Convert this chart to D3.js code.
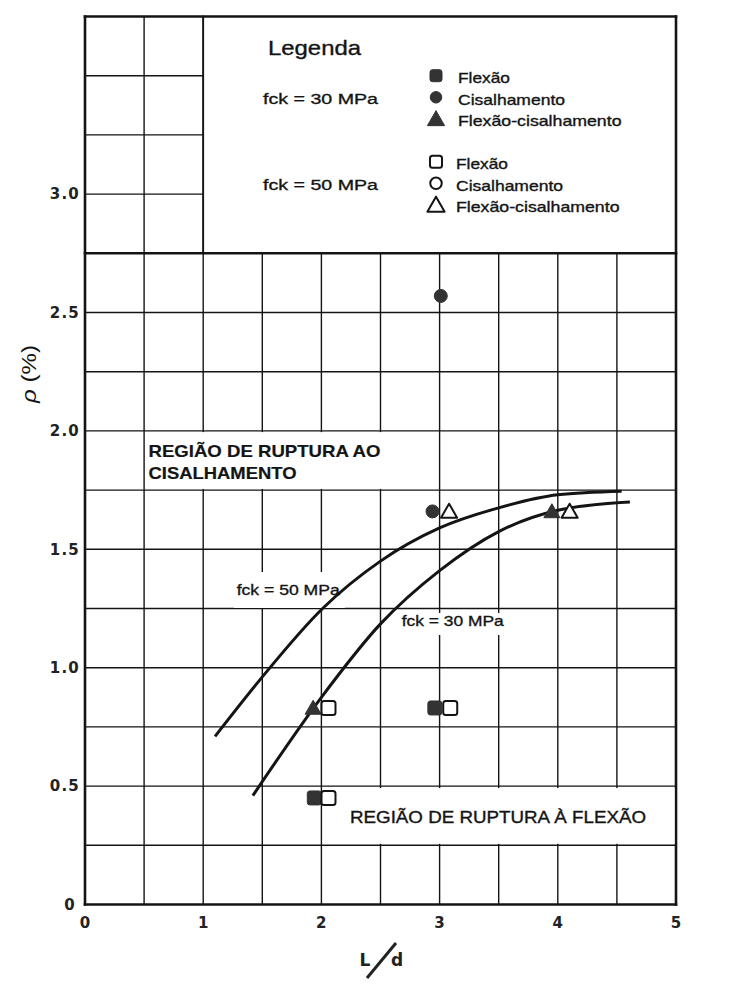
<!DOCTYPE html>
<html>
<head>
<meta charset="utf-8">
<script src="https://cdn.jsdelivr.net/npm/d3@7"></script>
<style>
  html, body { margin: 0; padding: 0; background: #fff; }
  svg { display: block; }
</style>
</head>
<body>
<svg id="chart" width="744" height="992"></svg>
<script>
// ---- axis ticks ----
const xTicks = [0, 1, 2, 3, 4, 5];
const xTickLabels = ["0", "1", "2", "3", "4", "5"];
const yTicks = [0, 0.5, 1.0, 1.5, 2.0, 2.5, 3.0];
const yTickLabels = ["0", "0.5", "1.0", "1.5", "2.0", "2.5", "3.0"];

// ---- test results: [L/d, rho (%)] ----
const flexao30 = [[1.94, 0.45], [2.96, 0.83]];
const cisalhamento30 = [[2.94, 1.66], [3.01, 2.57]];
const flexCis30 = [[1.93, 0.83], [3.95, 1.66]];
const flexao50 = [[2.06, 0.45], [2.06, 0.83], [3.09, 0.83]];
const cisalhamento50 = [];
const flexCis50 = [[3.08, 1.66], [4.10, 1.66]];

// ---- failure-mode boundary curves: [L/d, rho (%)] ----
const curve50 = [[1.10, 0.71], [1.49, 0.955], [2.01, 1.25], [2.5, 1.45], [3.0, 1.59],
                 [3.5, 1.675], [4.0, 1.73], [4.54, 1.745]];
const curve30 = [[1.42, 0.46], [2.0, 0.875], [2.5, 1.185], [3.0, 1.41], [3.5, 1.575],
                 [4.0, 1.665], [4.61, 1.70]];

// ---- legend ----
const legendGroups = ["fck = 30 MPa", "fck = 50 MPa"];
const legendTypes = ["Flexão", "Cisalhamento", "Flexão-cisalhamento"];
const legendShapes = ["square", "circle", "triangle"];

// ---- drawing ----
const W = 744, H = 992;
const INK = "#141414";
const FILL = "#333";
const SANS = "'Liberation Sans', Arial, sans-serif";

const svg = d3.select("#chart");
svg.append("rect").attr("width", W).attr("height", H).attr("fill", "#fff");

const x = d3.scaleLinear().domain([0, 5]).range([85, 676]);
const y = d3.scaleLinear().domain([0, 3.75]).range([904.5, 16.5]);

// grid: full height up to the legend box, only the first two columns above it
const grid = svg.append("g").attr("stroke", INK).attr("stroke-width", 1.4).attr("fill", "none");
d3.range(0.5, 5, 0.5).forEach(v => {
  const top = v <= 1 ? 3.75 : 2.75;
  grid.append("line").attr("x1", x(v)).attr("x2", x(v)).attr("y1", y(0)).attr("y2", y(top));
});
d3.range(0.25, 3.75, 0.25).forEach(v => {
  if (Math.abs(v - 2.75) < 1e-9) return;
  const right = v < 2.75 ? 5 : 1;
  grid.append("line").attr("x1", x(0)).attr("x2", x(right)).attr("y1", y(v)).attr("y2", y(v));
});

// frame and legend box
const frame = svg.append("g").attr("stroke", INK).attr("stroke-width", 2.6).attr("fill", "none")
  .attr("stroke-linecap", "square");
frame.append("line").attr("x1", x(0)).attr("x2", x(0)).attr("y1", y(0)).attr("y2", y(3.75));
frame.append("line").attr("x1", x(0)).attr("x2", x(5)).attr("y1", y(0)).attr("y2", y(0));
frame.append("line").attr("x1", x(0)).attr("x2", x(5)).attr("y1", y(3.75)).attr("y2", y(3.75));
frame.append("line").attr("x1", x(5)).attr("x2", x(5)).attr("y1", y(0)).attr("y2", y(3.75));
frame.append("line").attr("x1", x(0)).attr("x2", x(5)).attr("y1", y(2.75)).attr("y2", y(2.75));
frame.append("line").attr("x1", x(1)).attr("x2", x(1)).attr("y1", y(2.75)).attr("y2", y(3.75))
  .attr("stroke-width", 1.8);

// white panels behind the region and curve labels
const panels = [
  [x(0.5) + 1.5, y(2.0) + 1.2, 400, y(1.75) - 1.2],
  [234, 572, 345, 608],
  [398, 613, 507, 635],
  [335, y(0.5) + 2, x(5) - 1.5, y(0.25) - 1.5]
];
svg.append("g").selectAll("rect").data(panels).join("rect")
  .attr("x", d => d[0]).attr("y", d => d[1])
  .attr("width", d => d[2] - d[0]).attr("height", d => d[3] - d[1])
  .attr("fill", "#fff");

// text helper with fixed printed width
function label(g, str, lx, base, size, weight, width) {
  return g.append("text").attr("x", lx).attr("y", base)
    .attr("font-family", SANS).attr("font-size", size).attr("font-weight", weight)
    .attr("fill", INK).attr("stroke", INK).attr("stroke-width", weight === "bold" ? 0.2 : 0.35)
    .attr("textLength", width).attr("lengthAdjust", "spacingAndGlyphs")
    .text(str);
}

const notes = svg.append("g");
label(notes, "REGIÃO DE RUPTURA AO", 148.5, 456.7, 17, "bold", 232);
label(notes, "CISALHAMENTO", 148.5, 479.3, 17, "bold", 148);
label(notes, "fck = 50 MPa", 236.7, 595, 15, "normal", 103);
label(notes, "fck = 30 MPa", 401.7, 625.5, 15, "normal", 102);
label(notes, "REGIÃO DE RUPTURA À FLEXÃO", 350, 823, 16.5, "normal", 296);

// boundary curves
const line = d3.line().x(d => x(d[0])).y(d => y(d[1])).curve(d3.curveMonotoneX);
svg.append("g").selectAll("path").data([curve50, curve30]).join("path")
  .attr("d", line).attr("fill", "none").attr("stroke", INK).attr("stroke-width", 3)
  .attr("stroke-linecap", "butt");

// marker shapes
function marker(g, shape, filled, cx, cy, s) {
  const fill = filled ? FILL : "#fff";
  const stroke = filled ? FILL : INK;
  if (shape === "square") {
    g.append("rect").attr("x", cx - s / 2).attr("y", cy - s / 2).attr("width", s).attr("height", s)
      .attr("rx", 2.5).attr("fill", fill).attr("stroke", stroke).attr("stroke-width", filled ? 1 : 2);
  } else if (shape === "circle") {
    g.append("circle").attr("cx", cx).attr("cy", cy).attr("r", s / 2)
      .attr("fill", fill).attr("stroke", stroke).attr("stroke-width", filled ? 1 : 2);
  } else {
    const w = s * 1.15, h = s * 1.0;
    g.append("path")
      .attr("d", `M${cx},${cy - h * 0.55}L${cx + w / 2},${cy + h * 0.45}L${cx - w / 2},${cy + h * 0.45}Z`)
      .attr("fill", fill).attr("stroke", stroke).attr("stroke-width", filled ? 1 : 2)
      .attr("stroke-linejoin", "round");
  }
}

const pts = svg.append("g");
const series = [
  [flexao30, "square", true], [cisalhamento30, "circle", true], [flexCis30, "triangle", true],
  [flexao50, "square", false], [cisalhamento50, "circle", false], [flexCis50, "triangle", false]
];
const markSize = { square: 14, circle: 13, triangle: 14 };
series.forEach(([data, shape, filled]) => {
  data.forEach(d => marker(pts, shape, filled, x(d[0]), y(d[1]), markSize[shape]));
});

// legend
const leg = svg.append("g");
label(leg, "Legenda", 268, 54.5, 21, "normal", 93);
const groupTop = [75.7, 161.7];
const groupLabelBase = [103.5, 190];
const legSize = { square: 12, circle: 11.5, triangle: 15 };
const legWidths = [52, 107, 163.5];
legendGroups.forEach((gname, gi) => {
  label(leg, gname, 263, groupLabelBase[gi], 15.5, "normal", 115);
  legendTypes.forEach((t, ti) => {
    const cy = groupTop[gi] + ti * 21.6;
    marker(leg, legendShapes[ti], gi === 0, 436, cy, legSize[legendShapes[ti]]);
    label(leg, t, gi === 0 ? 458 : 456, cy + 7.3, 15, "normal", legWidths[ti]);
  });
});

// axes: tick labels only, the frame is drawn above
const tickFont = "'DejaVu Sans', sans-serif";
const xAxis = svg.append("g").attr("transform", `translate(0,${y(0)})`)
  .call(d3.axisBottom(x).tickValues(xTicks).tickFormat((d, i) => xTickLabels[i]).tickSize(0).tickPadding(13));
const yAxis = svg.append("g").attr("transform", `translate(${x(0)},0)`)
  .call(d3.axisLeft(y).tickValues(yTicks).tickFormat((d, i) => yTickLabels[i]).tickSize(0).tickPadding(5));
[xAxis, yAxis].forEach(a => {
  a.select(".domain").remove();
  a.selectAll("text").attr("font-family", tickFont).attr("font-size", 15).attr("font-weight", "bold")
    .attr("fill", "#222").attr("letter-spacing", 1.2);
});
yAxis.selectAll("text").filter((d, i) => i === 0).attr("dx", -4);

// axis titles
const yTitle = svg.append("text").attr("transform", "translate(36,374) rotate(-90)")
  .attr("text-anchor", "middle").attr("font-family", SANS).attr("font-size", 20).attr("fill", INK)
  .attr("textLength", 58).attr("lengthAdjust", "spacingAndGlyphs");
yTitle.append("tspan").attr("font-style", "italic").text("ρ");
yTitle.append("tspan").text(" (%)");

// L over d, separated by a long oblique fraction bar
const xTitle = svg.append("g").attr("font-family", tickFont).attr("font-size", 17)
  .attr("font-weight", "bold").attr("fill", "#222");
xTitle.append("text").attr("x", 365).attr("y", 966).attr("text-anchor", "middle").text("L");
xTitle.append("line").attr("x1", 367).attr("y1", 978).attr("x2", 396).attr("y2", 943)
  .attr("stroke", "#222").attr("stroke-width", 3);
xTitle.append("text").attr("x", 397).attr("y", 966).attr("text-anchor", "middle").text("d");
</script>
</body>
</html>
